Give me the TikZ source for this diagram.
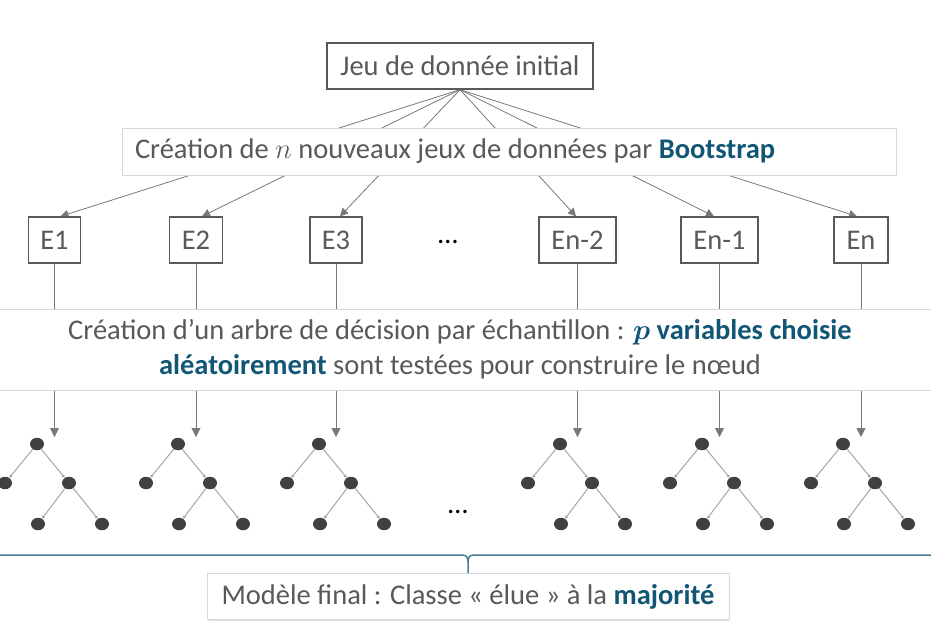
\RequirePackage{fix-cm}
\documentclass[tikz,border=0pt]{standalone}
\usepackage{fontspec}
\usepackage{amsmath}
\setmainfont{Carlito}
\usetikzlibrary{arrows.meta,backgrounds,calc,shapes.geometric}
\definecolor{txtc}{RGB}{89,89,89}
\definecolor{accentc}{RGB}{18,86,118}
\definecolor{linec}{RGB}{120,120,120}
\definecolor{lightb}{RGB}{215,215,215}
\definecolor{dotc}{RGB}{64,64,64}
\definecolor{tlinec}{RGB}{165,165,165}
\definecolor{bracec}{RGB}{72,126,150}
\newcommand{\acc}[1]{\textcolor{accentc}{\textbf{#1}}}
\begin{document}
\begin{tikzpicture}[x=1pt,y=-1pt,
  font=\fontsize{28.5}{33}\selectfont, text=txtc,
  darkbox/.style={draw=txtc, line width=1.3pt, fill=white, inner sep=0pt, minimum height=46pt},
  lightbox/.style={draw=lightb, line width=1pt, fill=white, inner sep=0pt},
  conn/.style={draw=linec, line width=0.8pt, -{Triangle[length=8pt,width=8pt]}, color=linec},
  downarrow/.style={draw=linec, line width=0.8pt, -{Triangle[length=9pt,width=9pt]}},
  dot/.style={ellipse, fill=dotc, inner sep=0pt, minimum width=14pt, minimum height=12.5pt},
  tedge/.style={draw=tlinec, line width=1pt, -{Triangle[length=3pt,width=3pt]}},
  dots/.style={text=black, inner sep=0pt}
]
\useasboundingbox (0,0) rectangle (931,629);

% top node
\node[darkbox, minimum width=266pt] (top) at (460,66) {Jeu de donnée initial};

% E boxes
\node[darkbox, minimum width=52pt] (E1) at (54.5,240) {E1};
\node[darkbox, minimum width=53pt] (E2) at (196,240) {E2};
\node[darkbox, minimum width=52pt] (E3) at (336,240) {E3};
\node[darkbox, minimum width=77pt] (E4) at (577.5,240) {En-2};
\node[darkbox, minimum width=77pt] (E5) at (719.5,240) {En-1};
\node[darkbox, minimum width=54pt] (E6) at (861,240) {En};
\node[dots] (edots) at (448,242) {…};

% tree arrow targets
\coordinate (ty) at (0,437);

% connectors (behind white boxes)
\begin{pgfonlayer}{background}
\draw[conn] (top.south) -- ($(E1.north)+(6,0)$);
\draw[conn] (top.south) -- ($(E2.north)+(6,0)$);
\draw[conn] (top.south) -- ($(E3.north)+(4,0)$);
\draw[conn] (top.south) -- ($(E4.north)+(-1.5,0)$);
\draw[conn] (top.south) -- ($(E5.north)+(-5.5,0)$);
\draw[conn] (top.south) -- ($(E6.north)+(-4,0)$);
\foreach \e in {1,...,6}{
  \draw[downarrow] (E\e.south) -- (E\e.south |- ty);
}
\end{pgfonlayer}

% bootstrap box
\node[lightbox, minimum height=47pt, inner xsep=13pt, text width=748pt, align=flush left] (boot) at (509,151.5)
  {Création de $n$ nouveaux jeux de données par \acc{Bootstrap}};

% decision tree creation box
\node[lightbox, minimum width=950pt, minimum height=81pt, align=center] (arbre) at (460,349.5)
  {Création d’un arbre de décision par échantillon : \textcolor{accentc}{$\boldsymbol{p}$} \acc{variables choisie}\\[2pt]
   \acc{aléatoirement} sont testées pour construire le nœud};

% trees
\foreach \i/\x in {1/37,2/178,3/319,4/560,5/702,6/843}{
  \node[dot] (r\i) at (\x,444) {};
  \node[dot] (a\i) at (\x-32,483) {};
  \node[dot] (b\i) at (\x+32,483) {};
  \node[dot] (c\i) at (\x+1,524) {};
  \node[dot] (d\i) at (\x+65,524) {};
  \begin{pgfonlayer}{background}
  \draw[tedge] (r\i) -- (a\i);
  \draw[tedge] (r\i) -- (b\i);
  \draw[tedge] (b\i) -- (c\i);
  \draw[tedge] (b\i) -- (d\i);
  \end{pgfonlayer}
}
\node[dots] (tdots) at (458,512) {…};

% brace
\coordinate (bl) at (0,555);
\coordinate (br) at (931,555);
\coordinate (bm) at (468,573);
\draw[bracec, line width=1.5pt] (bl) -- (462,555) .. controls (466,555) and (468,557) .. (468,562) -- (bm);
\draw[bracec, line width=1.5pt] (br) -- (474,555) .. controls (470,555) and (468,557) .. (468,562);

% final box
\fill[lightb!80] (208.5,600) rectangle (728.5,621);
\node[lightbox, minimum width=522pt, minimum height=46pt, text depth=4pt] (final) at (468,596)
  {Modèle final : Classe « élue » à la \acc{majorité}};
\end{tikzpicture}
\end{document}
